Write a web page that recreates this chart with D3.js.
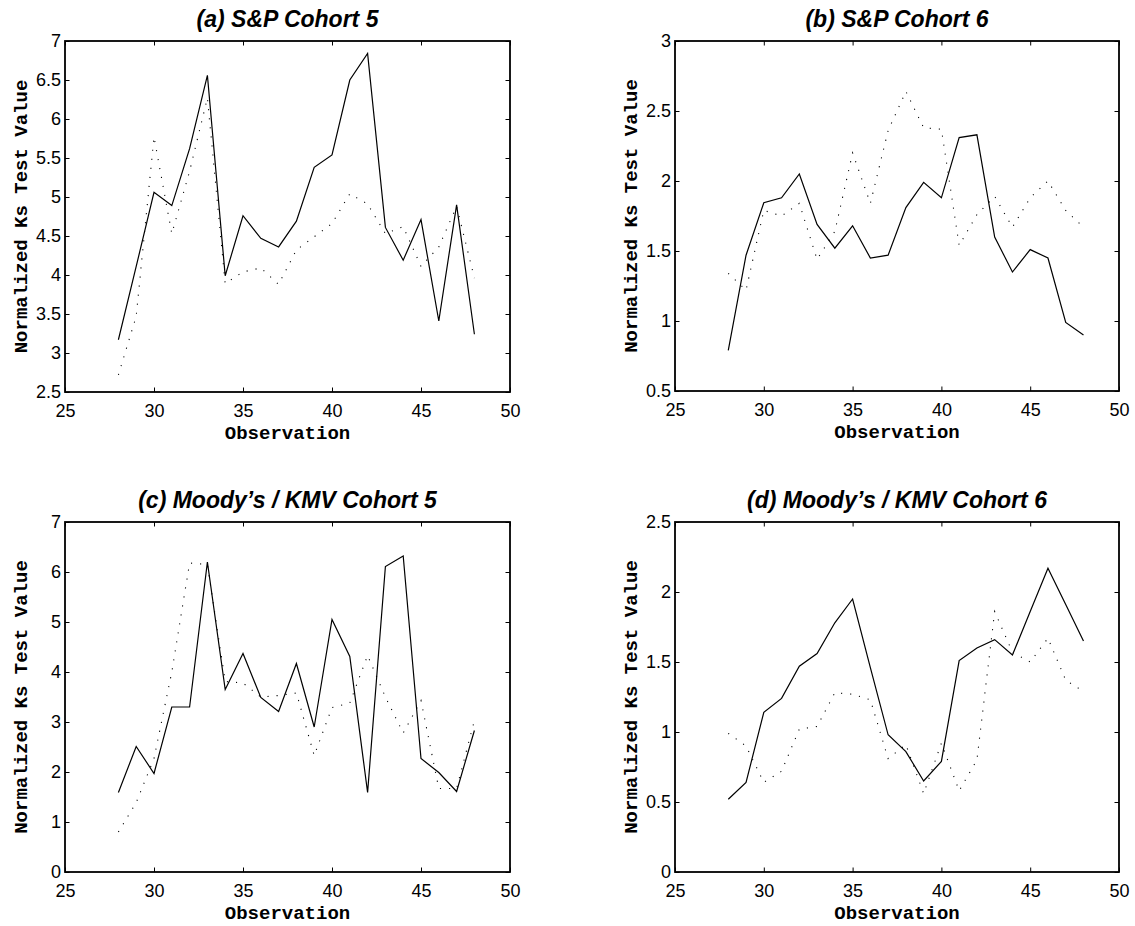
<!DOCTYPE html>
<html>
<head>
<meta charset="utf-8">
<script src="https://cdn.jsdelivr.net/npm/d3@7"></script>
<style>
  body { margin: 0; background: #fff; }
  svg { display: block; }
</style>
</head>
<body>
<svg width="1135" height="926"></svg>
<script>
// observation index, same for all four panels
let obs = [28, 29, 30, 31, 32, 33, 34, 35, 36, 37, 38, 39, 40, 41, 42, 43, 44, 45, 46, 47, 48];

// (a) S&P cohort 5
let spC5Solid = [3.17, 4.11, 5.06, 4.89, 5.62, 6.56, 3.99, 4.76, 4.47, 4.36, 4.69, 5.38, 5.54, 6.50, 6.84, 4.61, 4.19, 4.71, 3.41, 4.90, 3.24];
let spC5Dotted = [2.72, 3.47, 5.77, 4.53, 5.33, 6.27, 3.89, 4.04, 4.09, 3.88, 4.32, 4.49, 4.66, 5.04, 4.91, 4.53, 4.62, 4.11, 4.36, 4.88, 3.96];

// (b) S&P cohort 6
let spC6Solid = [0.79, 1.47, 1.845, 1.88, 2.05, 1.69, 1.52, 1.68, 1.45, 1.47, 1.81, 1.99, 1.88, 2.31, 2.33, 1.60, 1.35, 1.51, 1.45, 0.99, 0.90];
let spC6Dotted = [1.34, 1.22, 1.79, 1.75, 1.84, 1.44, 1.64, 2.20, 1.84, 2.36, 2.64, 2.38, 2.37, 1.54, 1.76, 1.89, 1.67, 1.88, 2.00, 1.79, 1.67];

// (c) Moody's / KMV cohort 5
let mkC5Solid = [1.59, 2.51, 1.97, 3.30, 3.30, 6.20, 3.65, 4.37, 3.49, 3.21, 4.17, 2.90, 5.05, 4.31, 1.59, 6.11, 6.32, 2.27, 1.99, 1.61, 2.83];
let mkC5Dotted = [0.80, 1.39, 2.27, 4.00, 6.18, 6.15, 3.81, 3.78, 3.50, 3.53, 3.58, 2.33, 3.29, 3.38, 4.33, 3.50, 2.78, 3.43, 1.67, 1.67, 3.03];

// (d) Moody's / KMV cohort 6
let mkC6Solid = [0.52, 0.64, 1.14, 1.24, 1.47, 1.56, 1.78, 1.95, 1.46, 0.98, 0.86, 0.65, 0.79, 1.51, 1.60, 1.66, 1.55, 1.86, 2.17, 1.91, 1.65];
let mkC6Dotted = [0.99, 0.90, 0.64, 0.72, 1.02, 1.04, 1.28, 1.27, 1.23, 0.81, 0.91, 0.56, 0.92, 0.58, 0.80, 1.86, 1.57, 1.50, 1.67, 1.37, 1.29];

let titles = ["(a) S&P Cohort 5", "(b) S&P Cohort 6", "(c) Moody\u2019s / KMV Cohort 5", "(d) Moody\u2019s / KMV Cohort 6"];
let xTicks = [25, 30, 35, 40, 45, 50];
let yTicksA = [2.5, 3, 3.5, 4, 4.5, 5, 5.5, 6, 6.5, 7];
let yTicksB = [0.5, 1, 1.5, 2, 2.5, 3];
let yTicksC = [0, 1, 2, 3, 4, 5, 6, 7];
let yTicksD = [0, 0.5, 1, 1.5, 2, 2.5];

let svg = d3.select("svg");

// plot boxes (pixel frames of each axes)
let panels = [
    { title: titles[0], left: 65,  top: 41,  w: 445, h: 351, yt: yTicksA, solid: spC5Solid, dotted: spC5Dotted },
    { title: titles[1], left: 675, top: 41,  w: 444, h: 350, yt: yTicksB, solid: spC6Solid, dotted: spC6Dotted },
    { title: titles[2], left: 65,  top: 522, w: 445, h: 350, yt: yTicksC, solid: mkC5Solid, dotted: mkC5Dotted },
    { title: titles[3], left: 675, top: 522, w: 444, h: 350, yt: yTicksD, solid: mkC6Solid, dotted: mkC6Dotted }
];

let tickFont = "'Liberation Sans', Arial, Helvetica, sans-serif";
let monoFont = "'Courier New', 'Liberation Mono', monospace";

panels.forEach(p => {
    let g = svg.append("g").attr("transform", `translate(${p.left},${p.top})`);

    let x = d3.scaleLinear().domain([25, 50]).range([0, p.w]);
    let y = d3.scaleLinear().domain(d3.extent(p.yt)).range([p.h, 0]);

    // --- axes, ticks pointing in ---
    let fmt = d => String(d);
    let bottom = g.append("g").attr("transform", `translate(0,${p.h})`)
        .call(d3.axisBottom(x).tickValues(xTicks).tickFormat(fmt).tickSizeInner(-4.5).tickSizeOuter(0).tickPadding(12));
    let left = g.append("g")
        .call(d3.axisLeft(y).tickValues(p.yt).tickFormat(fmt).tickSizeInner(-4.5).tickSizeOuter(0).tickPadding(4));
    let top = g.append("g")
        .call(d3.axisTop(x).tickValues(xTicks).tickFormat("").tickSizeInner(-4.5).tickSizeOuter(0));
    let right = g.append("g").attr("transform", `translate(${p.w},0)`)
        .call(d3.axisRight(y).tickValues(p.yt).tickFormat("").tickSizeInner(-4.5).tickSizeOuter(0));

    [bottom, left, top, right].forEach(a => {
        a.select(".domain").remove();
        a.selectAll("line").attr("stroke", "#000").attr("stroke-width", 1);
        a.selectAll("text")
            .attr("fill", "#000")
            .style("font-family", tickFont)
            .style("font-size", "18px");
    });

    g.append("rect")
        .attr("width", p.w).attr("height", p.h)
        .attr("fill", "none").attr("stroke", "#000").attr("stroke-width", 1.8);

    // --- the two series ---
    let line = d3.line()
        .x((d, i) => x(obs[i]))
        .y(d => y(d));

    g.append("path")
        .datum(p.dotted)
        .attr("d", line)
        .attr("fill", "none")
        .attr("stroke", "#000")
        .attr("stroke-width", 1.1)
        .attr("stroke-dasharray", "1.1,8");

    g.append("path")
        .datum(p.solid)
        .attr("d", line)
        .attr("fill", "none")
        .attr("stroke", "#000")
        .attr("stroke-width", 1.2);

    // --- labels ---
    g.append("text")
        .attr("x", p.w / 2).attr("y", -14)
        .attr("text-anchor", "middle")
        .style("font-family", tickFont)
        .style("font-weight", "bold")
        .style("font-style", "italic")
        .style("font-size", "23px")
        .text(p.title);

    g.append("text")
        .attr("x", p.w / 2).attr("y", p.h + 47)
        .attr("text-anchor", "middle")
        .style("font-family", monoFont)
        .style("font-weight", "bold")
        .style("font-size", "19px")
        .text("Observation");

    g.append("text")
        .attr("transform", `translate(-38,${p.h / 2}) rotate(-90)`)
        .attr("text-anchor", "middle")
        .style("font-family", monoFont)
        .style("font-weight", "bold")
        .style("font-size", "19px")
        .text("Normalized Ks Test Value");
});
</script>
</body>
</html>
